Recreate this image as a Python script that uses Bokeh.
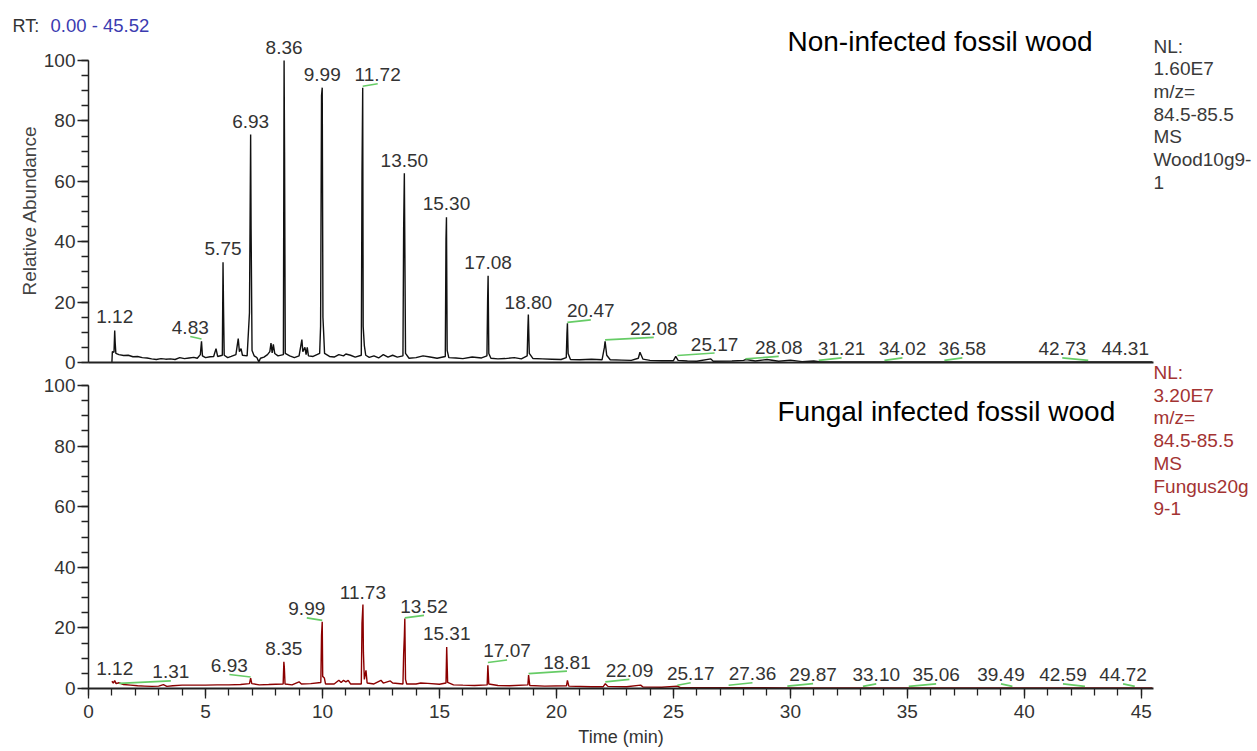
import math
from bokeh.plotting import figure
from bokeh.models import (Range1d, SingleIntervalTicker, FixedTicker, ColumnDataSource,
                          Label, LinearAxis)
from bokeh.embed import file_html
from bokeh.resources import INLINE
from bokeh.core.properties import value

# ---------------- data ----------------
rt_start = "0.00"
rt_end = "45.52"

# Non-infected fossil wood trace: (time [min], relative abundance [%])
wood_trace = [
    (1.00, 0.0), (1.02, 3.6), (1.09, 3.4), (1.12, 10.6), (1.14, 6.6), (1.17, 3.0), (1.30, 2.6),
    (1.50, 2.3), (1.70, 2.4), (1.90, 1.9), (2.10, 2.0), (2.30, 1.6), (2.50, 1.5), (2.70, 1.2),
    (2.90, 1.0), (3.10, 1.3), (3.30, 1.1), (3.50, 1.2), (3.70, 1.0), (3.90, 1.6), (4.10, 1.3),
    (4.30, 1.5), (4.50, 1.7), (4.65, 1.4), (4.78, 2.6), (4.83, 7.0), (4.87, 2.2), (5.00, 1.6),
    (5.20, 1.9), (5.35, 2.0), (5.45, 4.6), (5.52, 2.0), (5.72, 2.4), (5.75, 33.2), (5.77, 18.9),
    (5.80, 2.4), (5.95, 1.6), (6.10, 2.0), (6.30, 2.6), (6.40, 7.9), (6.45, 3.6), (6.52, 4.6),
    (6.58, 2.4), (6.78, 2.2), (6.88, 16.5), (6.93, 75.5), (6.95, 44.0), (6.99, 4.0), (7.08, 2.2),
    (7.20, 1.6), (7.28, 0.2), (7.35, 1.4), (7.50, 1.8), (7.65, 2.6), (7.75, 3.6), (7.80, 6.4),
    (7.85, 3.2), (7.90, 6.0), (7.96, 3.0), (8.10, 2.2), (8.33, 2.6), (8.36, 100.0), (8.38, 69.6),
    (8.41, 3.0), (8.60, 2.2), (8.80, 1.6), (9.00, 2.2), (9.12, 7.6), (9.16, 3.6), (9.25, 5.0),
    (9.30, 2.6), (9.35, 5.0), (9.40, 2.2), (9.60, 2.0), (9.88, 3.0), (9.92, 12.0), (9.96, 88.4),
    (9.99, 91.0), (10.02, 15.0), (10.05, 10.0), (10.09, 3.0), (10.30, 2.0), (10.50, 1.8),
    (10.70, 2.6), (10.90, 2.2), (11.00, 2.8), (11.20, 2.4), (11.40, 1.8), (11.66, 2.4),
    (11.69, 63.0), (11.72, 91.0), (11.74, 12.0), (11.79, 5.6), (11.85, 2.4), (12.00, 1.7),
    (12.20, 2.2), (12.40, 1.5), (12.60, 2.6), (12.80, 1.8), (13.00, 2.4), (13.20, 1.8),
    (13.44, 2.2), (13.47, 44.5), (13.50, 62.7), (13.52, 39.5), (13.55, 3.0), (13.70, 1.4),
    (14.00, 1.6), (14.30, 2.2), (14.60, 1.8), (14.90, 1.4), (15.25, 2.0), (15.28, 41.0),
    (15.30, 48.1), (15.33, 4.0), (15.40, 1.6), (15.70, 1.5), (16.00, 1.3), (16.40, 1.8),
    (16.80, 1.5), (17.03, 2.2), (17.06, 21.0), (17.08, 28.7), (17.11, 3.0), (17.20, 1.4),
    (17.50, 1.2), (17.80, 1.3), (18.20, 1.6), (18.50, 1.2), (18.75, 2.2), (18.78, 11.3),
    (18.80, 15.9), (18.84, 3.0), (19.00, 1.3), (19.40, 1.2), (19.80, 1.1), (20.20, 1.0),
    (20.42, 1.6), (20.45, 9.6), (20.47, 13.0), (20.50, 3.0), (20.60, 1.0), (21.00, 0.9),
    (21.50, 1.1), (21.95, 0.9), (22.05, 5.0), (22.08, 7.0), (22.15, 2.4), (22.30, 0.9),
    (22.80, 0.8), (23.20, 0.7), (23.50, 1.4), (23.57, 3.4), (23.70, 1.1), (24.00, 0.7),
    (24.50, 0.6), (25.00, 0.6), (25.10, 2.0), (25.20, 0.7), (25.60, 0.5), (26.00, 0.4),
    (26.60, 1.2), (26.70, 0.4), (27.50, 0.5), (28.00, 0.7), (28.10, 1.0), (28.50, 0.5),
    (29.00, 1.0), (29.50, 0.4), (30.00, 0.8), (30.50, 0.3), (31.00, 0.5), (31.30, 0.2),
    (35.00, 0.2), (40.00, 0.2), (45.47, 0.2),
]

# Fungal infected fossil wood trace
fungus_trace = [
    (1.00, 2.4), (1.06, 1.8), (1.12, 2.6), (1.18, 1.6), (1.30, 1.9), (1.50, 1.3), (1.80, 1.1),
    (2.10, 0.9), (2.40, 0.8), (2.70, 0.7), (3.00, 0.8), (3.20, 1.3), (3.35, 0.7), (3.60, 0.9),
    (4.00, 1.1), (4.50, 1.1), (5.00, 1.1), (5.50, 1.2), (6.00, 1.2), (6.50, 1.3), (6.88, 1.6),
    (6.93, 3.4), (6.98, 1.6), (7.30, 1.2), (7.70, 1.3), (8.00, 1.4), (8.32, 1.5), (8.35, 8.8),
    (8.37, 7.0), (8.40, 1.5), (8.70, 1.2), (9.00, 2.2), (9.10, 1.5), (9.50, 1.6), (9.93, 2.0),
    (9.96, 17.6), (9.99, 22.0), (10.01, 4.0), (10.08, 3.5), (10.13, 1.5), (10.50, 1.5),
    (10.70, 2.7), (10.80, 2.0), (10.90, 2.7), (11.00, 2.2), (11.10, 2.7), (11.20, 1.5),
    (11.66, 1.5), (11.69, 21.6), (11.73, 27.7), (11.75, 12.0), (11.79, 3.0), (11.86, 6.0),
    (11.91, 1.8), (12.20, 1.5), (12.50, 2.7), (12.60, 1.8), (12.90, 2.5), (13.00, 1.8),
    (13.44, 1.5), (13.47, 11.5), (13.50, 17.2), (13.52, 23.1), (13.55, 3.0), (13.60, 1.5),
    (14.00, 1.5), (14.20, 1.8), (14.50, 1.7), (15.00, 1.4), (15.28, 1.8), (15.31, 13.7),
    (15.35, 2.0), (15.60, 1.2), (16.00, 1.1), (16.50, 1.0), (17.04, 1.2), (17.07, 7.7),
    (17.11, 1.5), (17.50, 1.0), (18.00, 0.9), (18.78, 1.2), (18.81, 4.4), (18.86, 1.0),
    (19.50, 0.8), (20.43, 0.9), (20.47, 2.7), (20.53, 0.8), (21.50, 0.6), (22.00, 0.6),
    (22.09, 1.6), (22.20, 0.7), (23.00, 0.6), (23.60, 1.1), (23.70, 0.5), (24.50, 0.4),
    (25.17, 0.8), (25.30, 0.3), (30.00, 0.2), (45.47, 0.2),
]

# peak labels: retention time (label text), apex height, label centre time
wood_peak_rt = ["1.12", "4.83", "5.75", "6.93", "8.36", "9.99", "11.72", "13.50", "15.30",
                "17.08", "18.80", "20.47", "22.08", "25.17", "28.08", "31.21", "34.02",
                "36.58", "42.73", "44.31"]
wood_peak_height = [10.8, 7.3, 33.3, 75.6, 100.0, 91.0, 91.0, 62.5, 48.2, 28.9, 15.6, 12.8,
                    7.0, 1.8, 0.7, 0.2, 0.2, 0.2, 0.2, 0.2]
wood_label_rt = [1.12, 4.35, 5.75, 6.93, 8.36, 9.99, 12.36, 13.50, 15.30, 17.08, 18.80, 21.47,
                 24.16, 26.76, 29.50, 32.19, 34.79, 37.35, 41.62, 44.31]

fungus_peak_rt = ["1.12", "1.31", "6.93", "8.35", "9.99", "11.73", "13.52", "15.31", "17.07",
                  "18.81", "22.09", "25.17", "27.36", "29.87", "33.10", "35.06", "39.49",
                  "42.59", "44.72"]
fungus_peak_height = [2.2, 1.2, 3.3, 8.8, 22.0, 27.5, 22.8, 13.8, 8.1, 4.4, 1.7, 0.6, 0.6,
                      0.3, 0.2, 0.2, 0.2, 0.2, 0.2]
fungus_label_rt = [1.12, 3.52, 6.02, 8.35, 9.33, 11.73, 14.34, 15.31, 17.89, 20.45, 23.12,
                   25.74, 28.38, 30.97, 33.67, 36.23, 39.00, 41.65, 44.22]

wood_title = "Non-infected fossil wood"
fungus_title = "Fungal infected fossil wood"
wood_info = ["NL:", "1.60E7", "m/z=", "84.5-85.5", "MS", "Wood10g9-", "1"]
fungus_info = ["NL:", "3.20E7", "m/z=", "84.5-85.5", "MS", "Fungus20g", "9-1"]
x_label = "Time (min)"
y_label = "Relative Abundance"

# ---------------- layout constants ----------------
FONT = "Liberation Sans"
W, H = 1257, 751
F_LEFT, F_RIGHT = 88, 1153   # pixels of x = 0 and x = end
BOT_ZERO = 688               # pixel of bottom-panel 0
TOP_ZERO = 362               # pixel of top-panel 0
PX_BOT = 3.03                # px per % in bottom panel
PX_TOP = 3.02                # px per % in top panel
X_END = float(rt_end)
PX_X = (F_RIGHT - F_LEFT) / X_END


def dx(px):
    return (px - F_LEFT) / PX_X


def dy(py):
    return (BOT_ZERO - py) / PX_BOT


# the frame covers the whole canvas; axes are drawn at fixed data locations
p = figure(width=W, height=H,
           x_range=Range1d(-F_LEFT / PX_X, (W - F_LEFT) / PX_X),
           y_range=Range1d(-(H - BOT_ZERO) / PX_BOT, BOT_ZERO / PX_BOT),
           output_backend="svg", toolbar_location=None,
           x_axis_location=None, y_axis_location=None,
           min_border_left=0, min_border_right=0, min_border_top=0, min_border_bottom=0)
p.extra_y_ranges = {"top": Range1d(-(H - TOP_ZERO) / PX_TOP, TOP_ZERO / PX_TOP)}
p.outline_line_color = None
p.background_fill_color = "white"
p.border_fill_color = "white"
for g in p.grid:
    g.visible = False

AX_COL = "#222222"
LAB_COL = "#333333"


def y_axis(range_name):
    kw = {"y_range_name": range_name} if range_name else {}
    ax = LinearAxis(fixed_location=0, bounds=(0, 100),
                    ticker=SingleIntervalTicker(interval=20, num_minor_ticks=4), **kw)
    ax.axis_line_color = AX_COL
    ax.axis_line_width = 1.5
    ax.major_tick_line_color = AX_COL
    ax.minor_tick_line_color = AX_COL
    ax.major_tick_line_width = 1.3
    ax.minor_tick_line_width = 1.3
    ax.major_tick_out = 11
    ax.major_tick_in = 0
    ax.minor_tick_out = 7
    ax.minor_tick_in = 0
    ax.major_label_standoff = 2
    ax.major_label_text_font = FONT
    ax.major_label_text_font_size = "19px"
    ax.major_label_text_color = LAB_COL
    p.add_layout(ax, "left")


y_axis("top")
y_axis(None)

# bottom-panel time axis
xa = LinearAxis(fixed_location=0, bounds=(0, X_END),
                ticker=SingleIntervalTicker(interval=5, num_minor_ticks=5))
xa.axis_line_color = AX_COL
xa.axis_line_width = 2
xa.major_tick_line_color = AX_COL
xa.minor_tick_line_color = AX_COL
xa.major_tick_line_width = 1.3
xa.minor_tick_line_width = 1.3
xa.major_tick_out = 10
xa.major_tick_in = 0
xa.minor_tick_out = 7
xa.minor_tick_in = 0
xa.major_label_standoff = 6
xa.major_label_text_font = FONT
xa.major_label_text_font_size = "19px"
xa.major_label_text_color = LAB_COL
p.add_layout(xa, "below")

# top-panel baseline axis (no ticks)
top_x = LinearAxis(y_range_name="top", fixed_location=0, bounds=(0, X_END),
                   ticker=FixedTicker(ticks=[]),
                   major_tick_out=0, major_tick_in=0, minor_tick_out=0, minor_tick_in=0,
                   major_label_text_font_size="0px", major_label_standoff=0,
                   axis_line_color=AX_COL, axis_line_width=2)
p.add_layout(top_x, "below")

# traces
p.line([t for t, _ in wood_trace], [v for _, v in wood_trace], y_range_name="top",
       line_color="#111111", line_width=1.4)
p.line([t for t, _ in fungus_trace], [v for _, v in fungus_trace],
       line_color="#8b0000", line_width=1.4)


def peak_labels(rts, heights, label_rts, px_per, range_name):
    kw = {"y_range_name": range_name} if range_name else {}
    # green connector only where the label is moved away from its peak
    moved = [i for i, (r, l) in enumerate(zip(rts, label_rts)) if abs(float(r) - l) > 0.15]
    seg = ColumnDataSource(dict(
        x0=[float(rts[i]) for i in moved],
        y0=[heights[i] + 1.5 / px_per for i in moved],
        x1=[label_rts[i] for i in moved],
        y1=[heights[i] + 4.0 / px_per for i in moved]))
    p.segment(x0="x0", y0="y0", x1="x1", y1="y1", source=seg, line_color="#66cc66",
              line_width=1.6, **kw)
    src = ColumnDataSource(dict(lx=label_rts, ly=heights, txt=rts))
    p.text(x="lx", y="ly", text="txt", source=src, y_offset=-13, text_align="center",
           text_baseline="middle", text_font=value(FONT), text_font_size="19px",
           text_color=LAB_COL, **kw)


peak_labels(wood_peak_rt, wood_peak_height, wood_label_rt, PX_TOP, "top")
peak_labels(fungus_peak_rt, fungus_peak_height, fungus_label_rt, PX_BOT, None)


def add_label(text, px, py, size, color, align="left", angle=0.0):
    p.add_layout(Label(x=dx(px), y=dy(py), text=text, text_font=FONT, text_font_size=size,
                       text_color=color, text_align=align, text_baseline="middle",
                       angle=angle))


# header
add_label("RT:", 12, 25, "18px", LAB_COL)
add_label(rt_start + " - " + rt_end, 50, 25, "18.5px", "#3b3bb0")
# axis titles
add_label(y_label, 28.5, 210, "19px", "#444444", align="center", angle=math.pi / 2)
add_label(x_label, (F_LEFT + F_RIGHT) / 2, 736.5, "18px", LAB_COL, align="center")
# panel titles
add_label(wood_title, 787, 41.2, "28px", "#000000")
add_label(fungus_title, 777, 410.9, "28px", "#000000")
# right-hand info blocks
for i, s in enumerate(wood_info):
    add_label(s, 1153, 45.5 + 22.7 * i, "19px", "#3a3a3a")
for i, s in enumerate(fungus_info):
    add_label(s, 1153, 372 + 22.7 * i, "19px", "#a33333")

open("out.html", "w").write(file_html(p, INLINE))
